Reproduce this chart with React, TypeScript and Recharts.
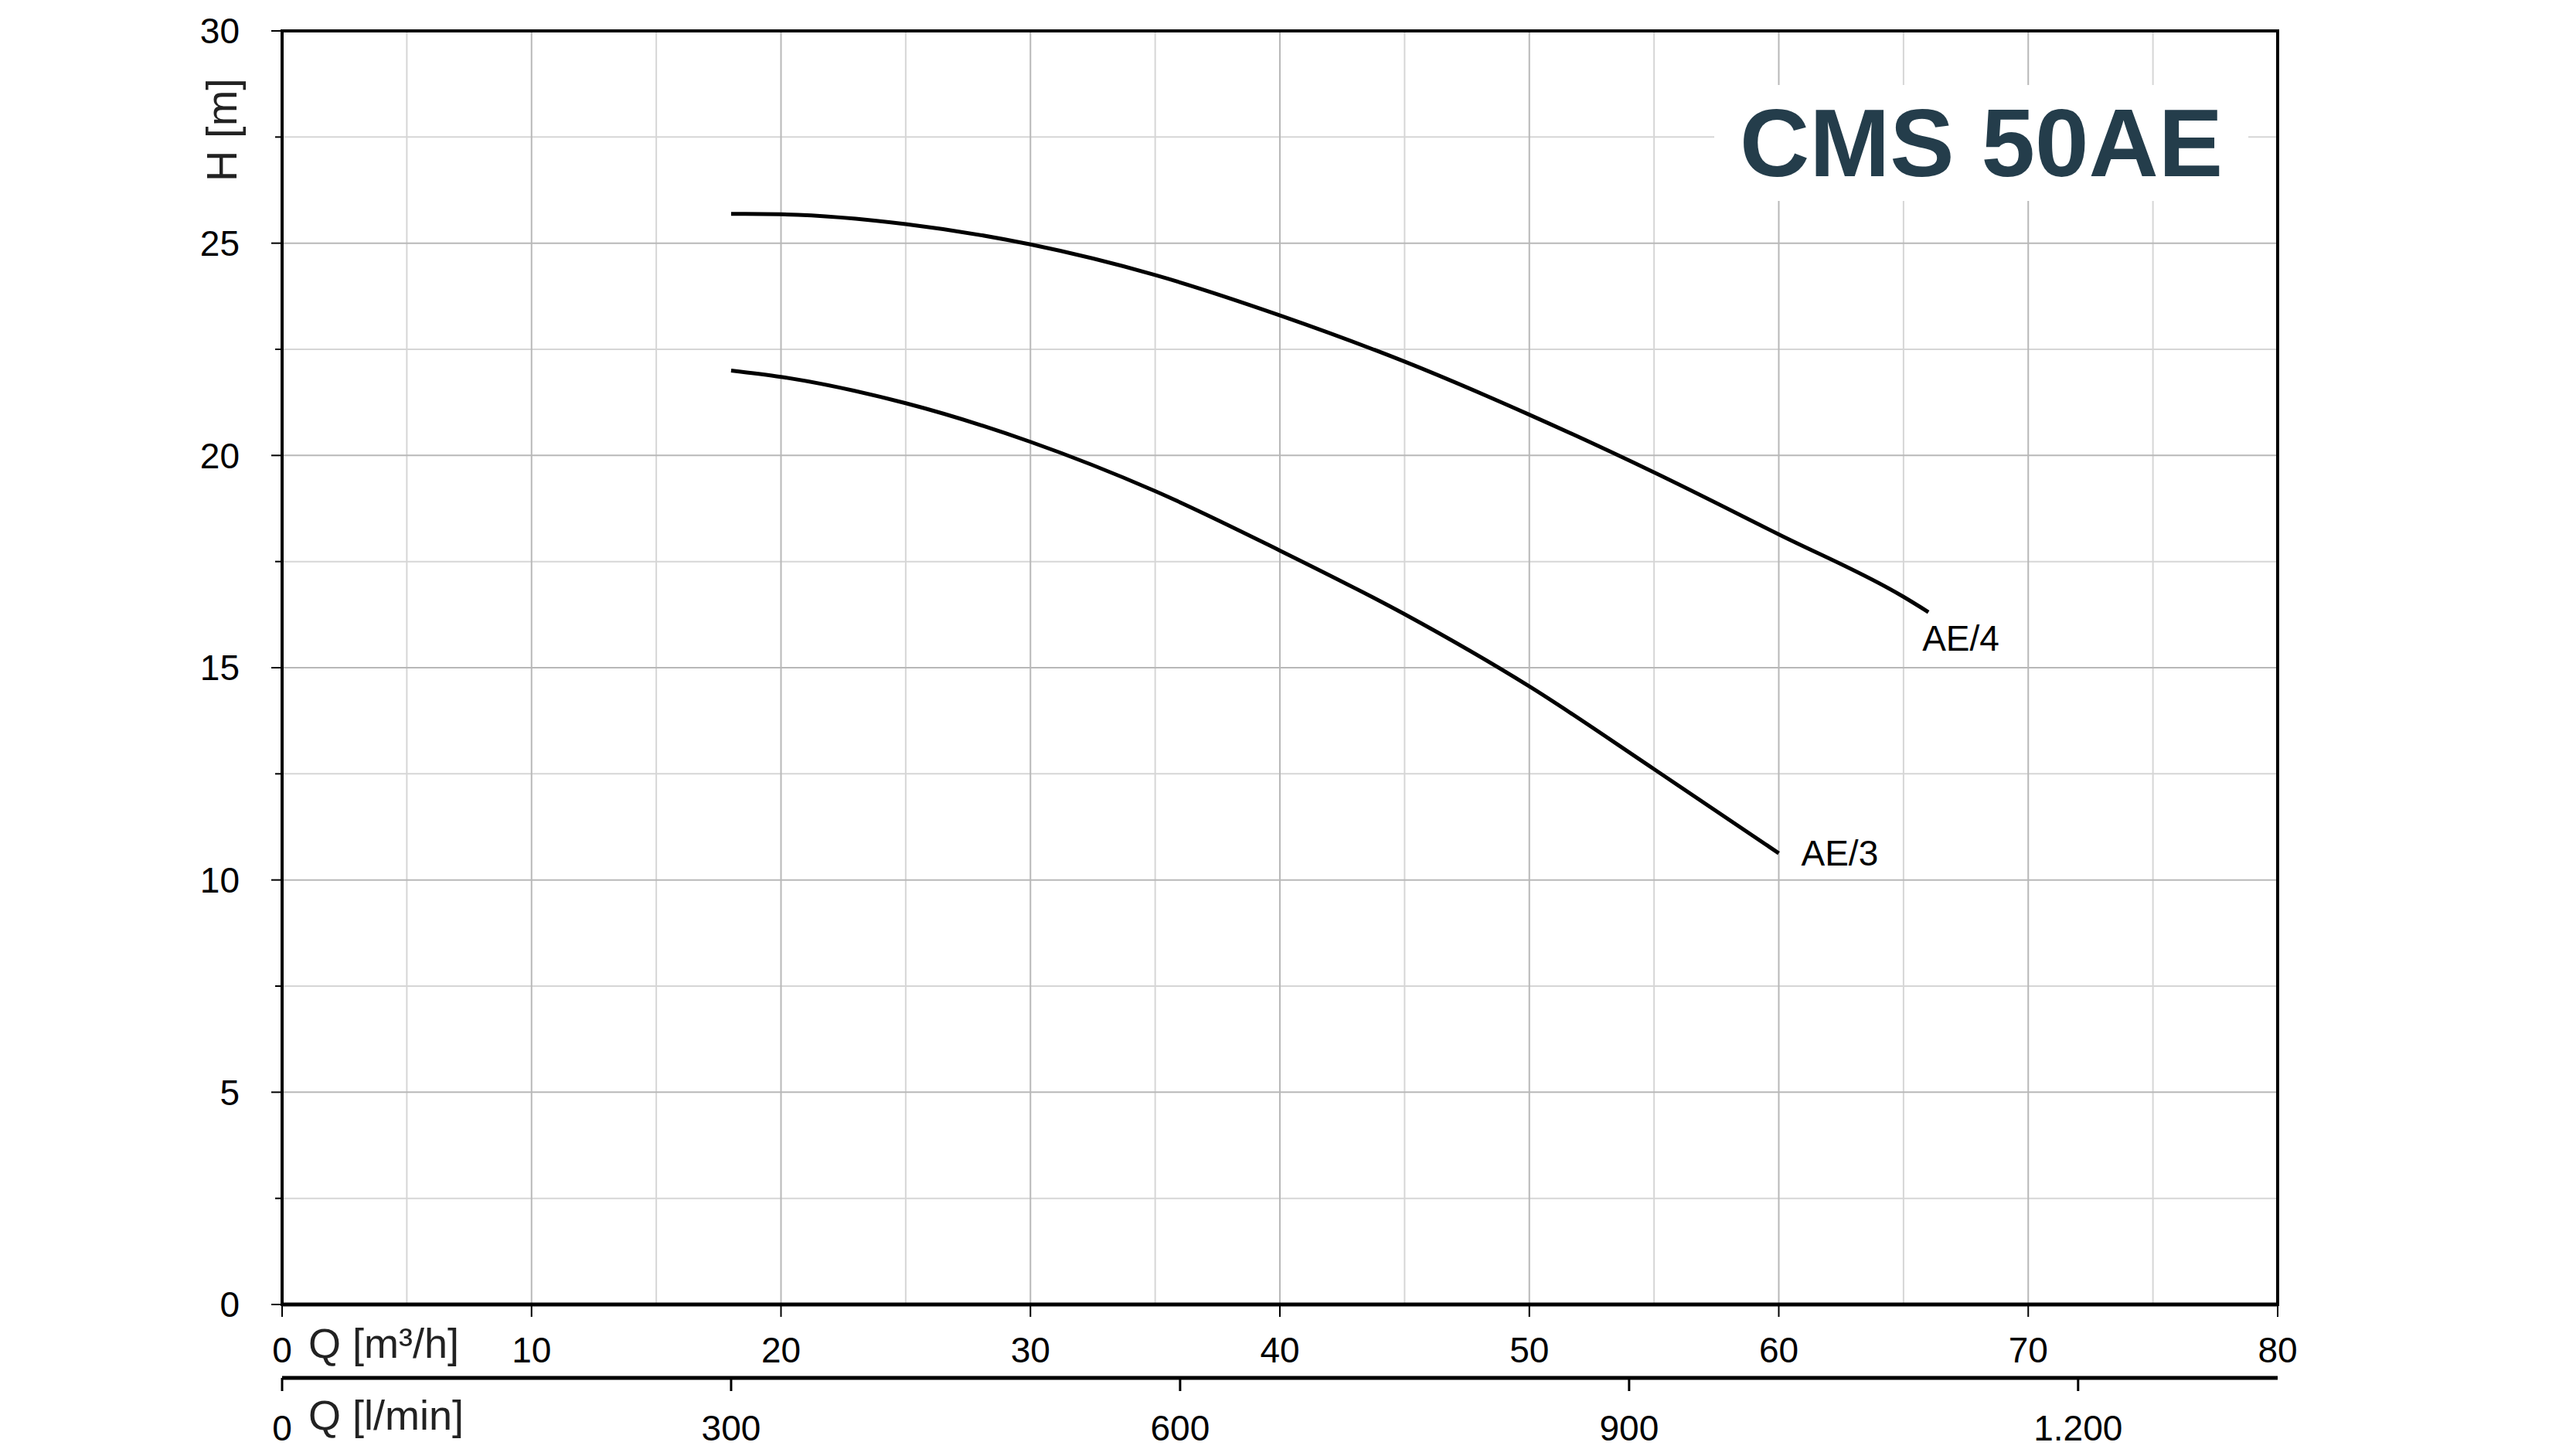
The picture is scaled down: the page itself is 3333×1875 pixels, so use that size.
import React from 'react';
import { LineChart, Line, XAxis, YAxis, CartesianGrid, ReferenceArea, ReferenceLine } from 'recharts';

// flow in m³/h, head in m
const ae4Flow = [18, 20, 25, 30, 35, 40, 45, 50, 55, 60, 65, 66];
const ae4Head = [25.69, 25.68, 25.45, 24.97, 24.25, 23.3, 22.21, 20.96, 19.6, 18.14, 16.67, 16.31];
const ae3Flow = [18, 20, 25, 30, 35, 40, 45, 50, 55, 60];
const ae3Head = [22.0, 21.85, 21.23, 20.32, 19.16, 17.76, 16.26, 14.56, 12.61, 10.63];

const flowTicks = [0, 10, 20, 30, 40, 50, 60, 70, 80];
const flowMinor = [5, 15, 25, 35, 45, 55, 65, 75];
const litreTicks = [0, 300, 600, 900, 1200];
const headTicks = [0, 2.5, 5, 7.5, 10, 12.5, 15, 17.5, 20, 22.5, 25, 27.5, 30];
const headMajor = [5, 10, 15, 20, 25];
const headMinor = [2.5, 7.5, 12.5, 17.5, 22.5, 27.5];

const FLOW_MAX = 80;
const HEAD_MAX = 30;
const LITRE_MAX = (FLOW_MAX * 1000) / 60;

const FONT = '"Liberation Sans", Arial, sans-serif';

const toRows = (flow: number[], head: number[]) => flow.map((q, i) => ({ q, h: head[i] }));
const ae4 = toRows(ae4Flow, ae4Head);
const ae3 = toRows(ae3Flow, ae3Head);

const HeadTick = (props: any) => {
  const { x, y, payload } = props;
  const v = payload.value;
  const major = v % 5 === 0;
  return (
    <g>
      <line x1={x - (major ? 14 : 9)} x2={x} y1={y} y2={y} stroke="#000" strokeWidth={2} />
      {major && (
        <text x={x - 55} y={y} dy="0.355em" textAnchor="end" fontSize={46} fontFamily={FONT} fill="#000">
          {v}
        </text>
      )}
    </g>
  );
};

const endLabel = (name: string, last: number, dx: number, dy: number) => (props: any) => {
  const { x, y, index } = props;
  if (index !== last) return null;
  return (
    <text x={x + dx} y={y + dy} dy="0.355em" fontSize={46} fontFamily={FONT} fill="#000">
      {name}
    </text>
  );
};

const App: React.FC = () => {
  return (
    <div style={{ position: 'absolute', left: 0, top: 0, width: 3333, height: 1875, background: '#fff' }}>
      <LineChart width={3333} height={1875} margin={{ top: 40, right: 386, left: 0, bottom: 0 }}>
        <CartesianGrid
          xAxisId="a_m3h"
          horizontalValues={headMinor}
          verticalValues={flowMinor}
          stroke="#d6d6d6"
          strokeWidth={2}
        />
        <CartesianGrid
          xAxisId="a_m3h"
          horizontalValues={headMajor}
          verticalValues={flowTicks}
          stroke="#b8b8b8"
          strokeWidth={2}
        />
        <XAxis
          xAxisId="a_m3h"
          dataKey="q"
          type="number"
          domain={[0, FLOW_MAX]}
          ticks={flowTicks}
          allowDataOverflow
          height={95}
          tickSize={16}
          tickMargin={26}
          tickLine={{ stroke: '#000', strokeWidth: 2 }}
          axisLine={{ stroke: '#000', strokeWidth: 5 }}
          tick={{ fontSize: 46, fontFamily: FONT, fill: '#000' }}
          label={{
            content: (p: any) => (
              <text x={p.viewBox.x + 34} y={p.viewBox.y + 50} dy="0.355em" fontSize={54} fontFamily={FONT} fill="#222">
                Q [m³/h]
              </text>
            ),
          }}
        />
        <XAxis
          xAxisId="b_lmin"
          dataKey="q"
          type="number"
          domain={[0, LITRE_MAX]}
          ticks={litreTicks}
          allowDataOverflow
          height={92}
          tickSize={17}
          tickMargin={31}
          tickFormatter={(v: number) => v.toLocaleString('de-DE')}
          tickLine={{ stroke: '#000', strokeWidth: 3 }}
          axisLine={{ stroke: '#000', strokeWidth: 5 }}
          tick={{ fontSize: 46, fontFamily: FONT, fill: '#000' }}
          label={{
            content: (p: any) => (
              <text x={p.viewBox.x + 34} y={p.viewBox.y + 48} dy="0.355em" fontSize={54} fontFamily={FONT} fill="#222">
                Q [l/min]
              </text>
            ),
          }}
        />
        <YAxis
          type="number"
          domain={[0, HEAD_MAX]}
          ticks={headTicks}
          interval={0}
          width={365}
          tickLine={false}
          tickSize={0}
          tickMargin={0}
          axisLine={{ stroke: '#000', strokeWidth: 4 }}
          tick={<HeadTick />}
          label={{
            content: (p: any) => (
              <text
                x={p.viewBox.x + p.viewBox.width - 79}
                y={p.viewBox.y + 128}
                transform={`rotate(-90 ${p.viewBox.x + p.viewBox.width - 79} ${p.viewBox.y + 128})`}
                textAnchor="middle"
                dy="0.355em"
                fontSize={56}
                fontFamily={FONT}
                fill="#222"
              >
                H [m]
              </text>
            ),
          }}
        />
        <ReferenceLine xAxisId="b_lmin" x={0} stroke="none" />
        <ReferenceArea
          xAxisId="a_m3h"
          x1={0}
          x2={FLOW_MAX}
          y1={0}
          y2={HEAD_MAX}
          fill="none"
          stroke="#000"
          strokeWidth={4}
          fillOpacity={0}
          strokeOpacity={1}
        />
        <Line
          xAxisId="a_m3h"
          data={ae4}
          dataKey="h"
          type="monotone"
          stroke="#000"
          strokeWidth={5}
          dot={false}
          isAnimationActive={false}
          label={endLabel('AE/4', ae4.length - 1, -8, 34)}
        />
        <Line
          xAxisId="a_m3h"
          data={ae3}
          dataKey="h"
          type="monotone"
          stroke="#000"
          strokeWidth={5}
          dot={false}
          isAnimationActive={false}
          label={endLabel('AE/3', ae3.length - 1, 29, 0)}
        />
      </LineChart>
      <div
        style={{
          position: 'absolute',
          left: 2218,
          top: 110,
          width: 691,
          height: 150,
          background: '#fff',
          color: '#243d4b',
          fontFamily: FONT,
          fontWeight: 'bold',
          fontSize: 125,
          lineHeight: '150px',
          textAlign: 'center',
          whiteSpace: 'nowrap',
        }}
      >
        CMS 50AE
      </div>
    </div>
  );
};

export default App;
